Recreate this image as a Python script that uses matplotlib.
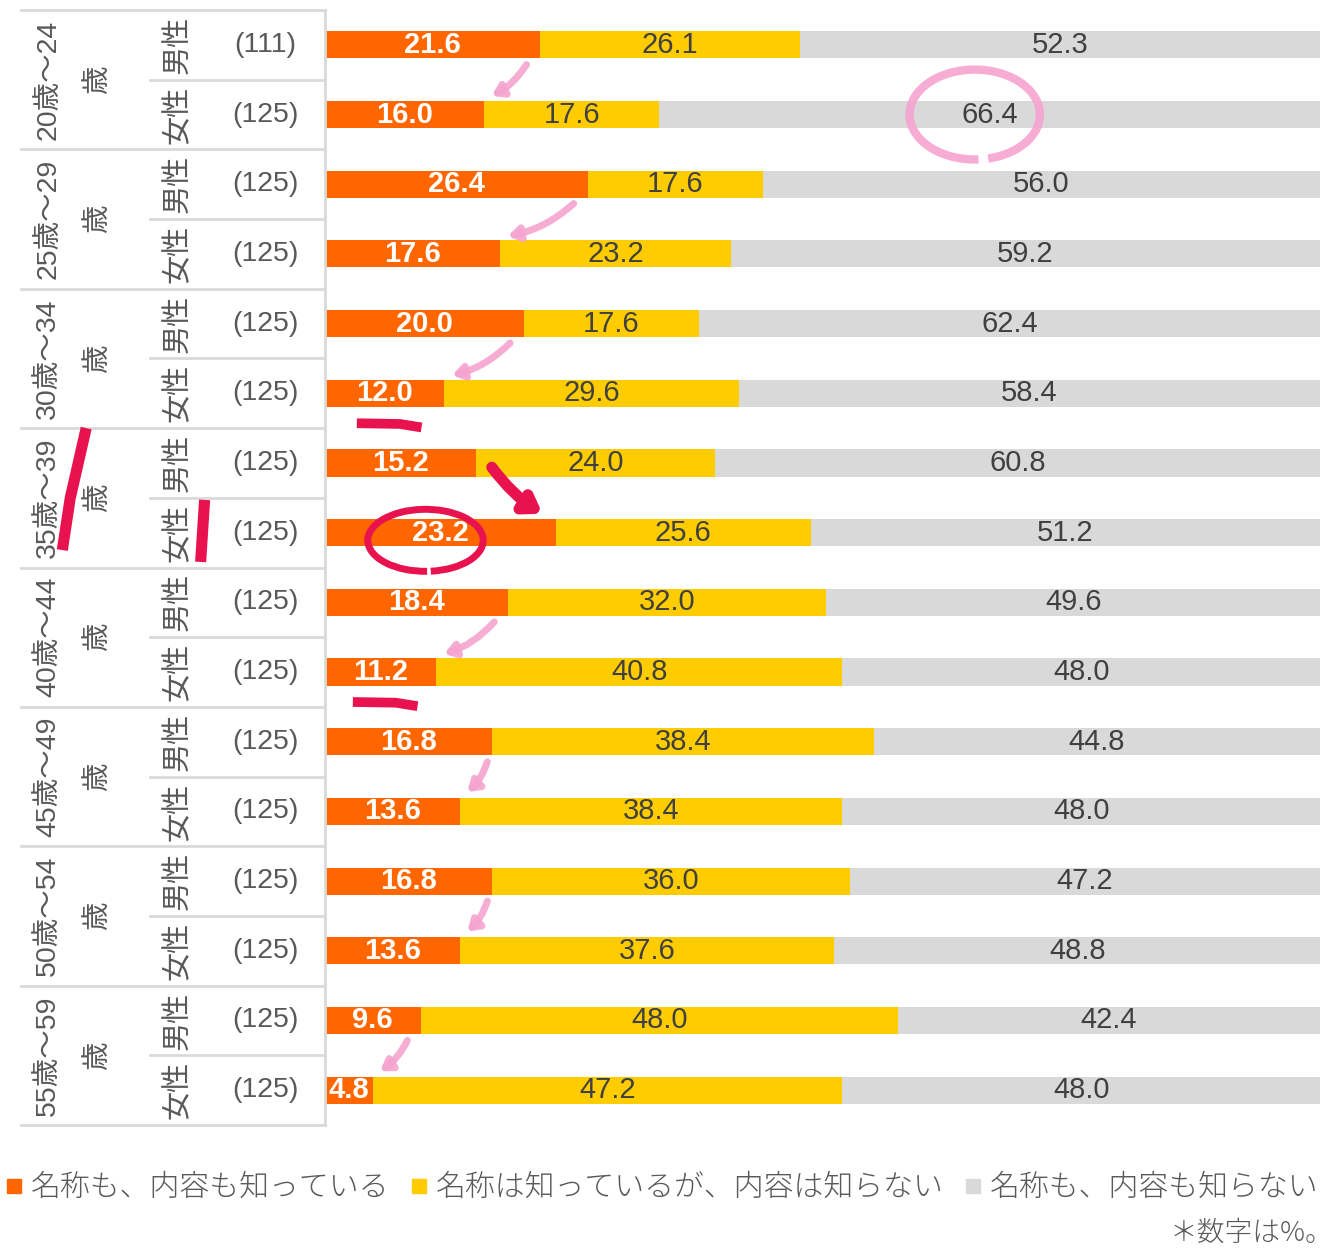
import matplotlib
matplotlib.use("Agg")
import matplotlib.pyplot as plt
from matplotlib.lines import Line2D
from matplotlib.patches import Arc

plt.rcParams["font.family"] = ["Liberation Sans", "Noto Sans CJK JP"]

# data
ages = ["20歳～24", "25歳～29", "30歳～34", "35歳～39",
        "40歳～44", "45歳～49", "50歳～54", "55歳～59"]
genders = ["男性", "女性"]
counts = [111, 125, 125, 125, 125, 125, 125, 125,
          125, 125, 125, 125, 125, 125, 125, 125]
know_both = [21.6, 16.0, 26.4, 17.6, 20.0, 12.0, 15.2, 23.2,
             18.4, 11.2, 16.8, 13.6, 16.8, 13.6, 9.6, 4.8]
name_only = [26.1, 17.6, 17.6, 23.2, 17.6, 29.6, 24.0, 25.6,
             32.0, 40.8, 38.4, 38.4, 36.0, 37.6, 48.0, 47.2]
neither = [52.3, 66.4, 56.0, 59.2, 62.4, 58.4, 60.8, 51.2,
           49.6, 48.0, 44.8, 48.0, 47.2, 48.8, 42.4, 48.0]
series_names = ["名称も、内容も知っている", "名称は知っているが、内容は知らない",
                "名称も、内容も知らない"]

ORANGE = "#FF6600"
YELLOW = "#FFCC00"
GRAY = "#D9D9D9"
TEXT = "#595959"
DARK = "#404040"
LINE = "#D9D9D9"
PINK = "#F5A3CF"
CRIMSON = "#E8124F"

fig = plt.figure(figsize=(13.34, 12.53), dpi=100)
ax = fig.add_axes([325 / 1334, 128 / 1253, 995 / 1334, 1115 / 1253])
nrows = len(know_both)
ax.set_xlim(0, 100)
ax.set_ylim(nrows - 0.5, -0.5)
ax.axis("off")

rows = list(range(nrows))
left2 = [a for a in know_both]
left3 = [a + b for a, b in zip(know_both, name_only)]
bh = 0.39
ax.barh(rows, know_both, height=bh, color=ORANGE)
ax.barh(rows, name_only, left=left2, height=bh, color=YELLOW)
ax.barh(rows, neither, left=left3, height=bh, color=GRAY)

for i in rows:
    ax.text(know_both[i] / 2, i, f"{know_both[i]:.1f}", ha="center", va="center",
            fontsize=21, color="white", fontweight="bold")
    ax.text(left2[i] + name_only[i] / 2, i, f"{name_only[i]:.1f}", ha="center",
            va="center", fontsize=21, color=DARK)
    ax.text(left3[i] + neither[i] / 2, i, f"{neither[i]:.1f}", ha="center",
            va="center", fontsize=21, color=DARK)

# table on the left
kw = dict(color=LINE, lw=2, clip_on=False)
for g in range(len(ages) + 1):
    ax.plot([-30.6, 0], [2 * g - 0.5, 2 * g - 0.5], **kw)
for g in range(len(ages)):
    ax.plot([-17.6, 0], [2 * g + 0.5, 2 * g + 0.5], **kw)
ax.plot([0, 0], [-0.5, nrows - 0.5], **kw)

for g, age in enumerate(ages):
    yc = 2 * g + 0.5
    ax.text(-27.8, yc, age, rotation=90, ha="center", va="center",
            fontsize=20.5, color=TEXT, clip_on=False)
    ax.text(-22.8, yc, "歳", rotation=90, ha="center", va="center",
            fontsize=20.5, color=TEXT, clip_on=False)
for i in rows:
    ax.text(-14.8, i, genders[i % 2], rotation=90, ha="center", va="center",
            fontsize=21, color=TEXT, clip_on=False)
    ax.text(-6.0, i, f"({counts[i]})", ha="center", va="center",
            fontsize=20.5, color=TEXT, clip_on=False)

# hand-drawn marks
for g in range(len(ages)):
    m, f = 2 * g, 2 * g + 1
    if g == 3:
        ax.annotate("", xy=(know_both[f] - 1.1, f - 0.25),
                    xytext=(know_both[m] + 1.4, m + 0.03),
                    arrowprops=dict(arrowstyle="-|>,head_length=0.9,head_width=0.6",
                                    color=CRIMSON, lw=8,
                                    connectionstyle="arc3,rad=0.1"))
    else:
        tail = max(know_both[m] - 1.2, know_both[f] + 2.8)
        ax.annotate("", xy=(know_both[f] + 0.5, f - 0.25),
                    xytext=(tail, m + 0.25),
                    arrowprops=dict(arrowstyle="-|>,head_length=0.6,head_width=0.4",
                                    color=PINK, lw=5, alpha=0.9,
                                    connectionstyle="arc3,rad=-0.15"))

lab = left3[1] + neither[1] / 2
ax.add_patch(Arc((lab - 1.5, 1.0), 13.1, 1.29, theta1=60, theta2=385,
                 color=PINK, lw=6, alpha=0.9))
ax.add_patch(Arc((know_both[7] / 2 - 1.5, 7.11), 11.6, 0.89, theta1=70, theta2=400,
                 color=CRIMSON, lw=5))
for i in (5, 9):
    x0 = know_both[i] / 2
    ax.plot([x0 - 2.8, x0 + 1.5, x0 + 3.7], [i + 0.43, i + 0.44, i + 0.49],
            color=CRIMSON, lw=7, solid_capstyle="butt", clip_on=False)
ax.plot([-26.4, -25.6, -24.0], [7.25, 6.5, 5.5], color=CRIMSON, lw=8,
        solid_capstyle="butt", clip_on=False)
ax.plot([-12.5, -12.1], [7.42, 6.53], color=CRIMSON, lw=8,
        solid_capstyle="butt", clip_on=False)

# legend
handles = [Line2D([], [], marker="s", ls="none", markersize=10, color=c)
           for c in (ORANGE, YELLOW, GRAY)]
leg = fig.legend(handles, series_names, loc="center", ncol=3,
                 bbox_to_anchor=(0.4966, 1 - 1188 / 1253), frameon=False,
                 prop=dict(family=["Noto Sans CJK JP"], size=21.5, weight="light"),
                 handlelength=0.5, handletextpad=0.3, columnspacing=0.75,
                 borderaxespad=0, borderpad=0)
for t in leg.get_texts():
    t.set_color(TEXT)

fig.text(0.9995, 1 - 1233 / 1253, "＊数字は%。", ha="right", va="center",
         fontsize=20, color=TEXT, family=["Noto Sans CJK JP"], weight="light")

fig.savefig("out.png", dpi=100)
